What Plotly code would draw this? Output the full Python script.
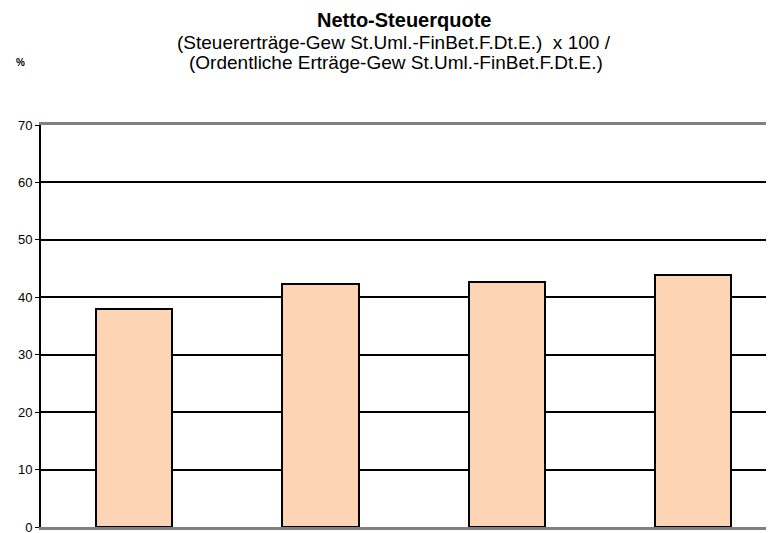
import plotly.graph_objects as go

categories = ["1", "2", "3", "4"]
values = [38.0, 42.4, 42.7, 43.9]
y_ticks = [0, 10, 20, 30, 40, 50, 60, 70]

title = "<b>Netto-Steuerquote</b>"
subtitle1 = "(Steuererträge-Gew St.Uml.-FinBet.F.Dt.E.)  x 100 /"
subtitle2 = "(Ordentliche Erträge-Gew St.Uml.-FinBet.F.Dt.E.)"

W, H = 774, 533
ML, MR, MT, MB = 33, 0, 117, 14

fig = go.Figure()
fig.add_trace(go.Bar(
    x=categories, y=values, width=0.41,
    marker=dict(color="#FDD5B4", line=dict(color="#000000", width=2)),
    hoverinfo="y",
))

fig.update_layout(
    width=W, height=H,
    margin=dict(l=ML, r=MR, t=MT, b=MB),
    paper_bgcolor="white", plot_bgcolor="white",
    font=dict(family="Liberation Sans, Arial, sans-serif", color="#000"),
    showlegend=False,
    bargap=0,
)
fig.update_xaxes(
    type="category", range=[-0.5, 3.478],
    showticklabels=False, showgrid=False, zeroline=False,
    showline=True, linecolor="#808080", linewidth=3, mirror=True,
    ticks="",
)
fig.update_yaxes(
    range=[0, 70], tickvals=y_ticks, ticktext=[str(v) for v in y_ticks],
    showgrid=True, gridcolor="#000000", gridwidth=1.5,
    zeroline=False, showline=True, linecolor="#000000", linewidth=2,
    ticks="outside", ticklen=4, tickcolor="#000", tickwidth=1,
    tickfont=dict(size=13, color="#000"),
)

# (text, page-x, page-y, size)
labels = [
    (title, 404, 20, 20),
    (subtitle1, 394, 42, 19),
    (subtitle2, 396, 63, 19),
    ("<b>%</b>", 20, 63, 10),
]
OFF = 8  # page body offset
plot_w = W - ML - MR
plot_h = H - MT - MB
for text, px, py, size in labels:
    fx, fy = px - OFF, py - OFF
    fig.add_annotation(
        text=text, showarrow=False, xref="paper", yref="paper",
        x=(fx - ML) / plot_w, y=(H - fy - MB) / plot_h,
        xanchor="center", yanchor="middle", font=dict(size=size),
    )

fig.write_html("out.html")
